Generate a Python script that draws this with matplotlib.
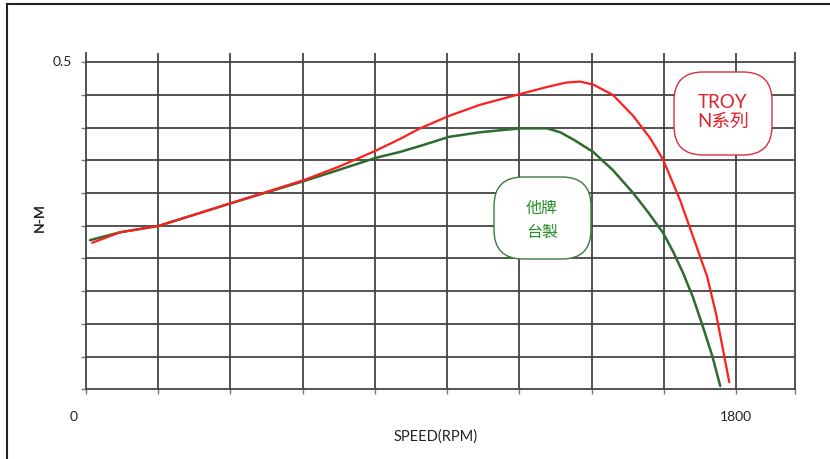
import matplotlib
matplotlib.use("Agg")
import matplotlib.pyplot as plt
from matplotlib.patches import FancyBboxPatch
from matplotlib.lines import Line2D

plt.rcParams['font.family'] = ['Lato', 'Noto Sans CJK TC', 'DejaVu Sans']

# ---- data ----
troy_speed = [17, 94, 202, 404, 604, 703, 803, 870, 925, 1005, 1091, 1202, 1271, 1329,
              1368, 1404, 1459, 1515, 1562, 1598, 1645, 1681, 1720, 1745, 1767, 1781]
troy_torque = [0.224, 0.240, 0.250, 0.285, 0.320, 0.341, 0.365, 0.383, 0.399, 0.418,
               0.435, 0.4515, 0.4615, 0.469, 0.4705, 0.466, 0.450, 0.418, 0.384, 0.351,
               0.289, 0.233, 0.172, 0.114, 0.051, 0.011]
other_speed = [11, 94, 202, 404, 604, 703, 803, 870, 925, 1005, 1091, 1202, 1277, 1313,
               1349, 1404, 1459, 1515, 1556, 1598, 1626, 1653, 1681, 1709, 1734, 1756]
other_torque = [0.228, 0.240, 0.250, 0.285, 0.3185, 0.336, 0.354, 0.363, 0.372, 0.386,
                0.393, 0.399, 0.399, 0.393, 0.382, 0.363, 0.335, 0.300, 0.271, 0.239,
                0.210, 0.178, 0.140, 0.094, 0.051, 0.005]
x_ticks = [0, 200, 400, 600, 800, 1000, 1200, 1400, 1600, 1800]
y_ticks = [0.0, 0.05, 0.1, 0.15, 0.2, 0.25, 0.3, 0.35, 0.4, 0.45, 0.5]
x_tick_labels = {0: "0", 1800: "1800"}
y_tick_labels = {0.5: "0.5"}
troy_label = "TROY\nN系列"
other_label = "他牌\n台製"
x_title = "SPEED(RPM)"
y_title = "N-M"

W, H = 830, 459
fig = plt.figure(figsize=(W / 100, H / 100), dpi=100)
fig.patch.set_facecolor("white")

ax = fig.add_axes([86 / W, (H - 389.3) / H, (795 - 86) / W, (389.3 - 53) / H])
ax.set_xlim(0, 1963)
ax.set_ylim(0, 0.5142)

grid_c = "#444444"
ax.spines["top"].set_visible(False)
for s in ["left", "right", "bottom"]:
    ax.spines[s].set_color(grid_c)
    ax.spines[s].set_linewidth(1.3)

for xv in x_ticks[1:]:
    ax.axvline(xv, color=grid_c, lw=1.3, zorder=1)
for yv in y_ticks[1:]:
    ax.axhline(yv, color=grid_c, lw=1.3, zorder=1)

ax.set_xticks(x_ticks + [1963])
ax.set_xticklabels([])
ax.set_yticks(y_ticks)
ax.set_yticklabels([])
ax.tick_params(axis="both", direction="out", length=3.5, width=1.0, color="#777777")

for xv, lab in x_tick_labels.items():
    dx = -12 if xv == 0 else 0
    ax.annotate(lab, xy=(xv, 0), xycoords="data", xytext=(dx * 0.72, -20),
                textcoords="offset points", ha="center", va="center",
                fontsize=10, color="#222222")
for yv, lab in y_tick_labels.items():
    ax.annotate(lab, xy=(0, yv), xycoords="data", xytext=(-17, 0),
                textcoords="offset points", ha="center", va="center",
                fontsize=10, color="#222222")

fig.text(436 / W, 1 - 437 / H, x_title, ha="center", va="center",
         fontsize=10.5, color="#222222")
fig.text(40 / W, 1 - 218 / H, y_title, ha="center", va="center",
         rotation=90, fontsize=10, fontweight="bold", color="#222222")

ax.plot(other_speed, other_torque, color="#2e6b2e", lw=1.8, zorder=3,
        solid_capstyle="round", solid_joinstyle="round")
ax.plot(troy_speed, troy_torque, color="#ff1e1e", lw=1.6, zorder=4,
        solid_capstyle="round", solid_joinstyle="round")

# label boxes (pixel positions in figure)
def box(x0, y0, x1, y1, ec):
    p = FancyBboxPatch((x0 / W, 1 - y1 / H), (x1 - x0) / W, (y1 - y0) / H,
                       boxstyle="round,pad=0,rounding_size=0.035",
                       transform=fig.transFigure, facecolor="white",
                       edgecolor=ec, lw=1.0, zorder=5,
                       mutation_aspect=W / H)
    fig.add_artist(p)

box(674, 72, 772, 155, "#d8303a")
fig.text(723 / W, 1 - 112 / H, troy_label, ha="center", va="center",
         fontsize=13.5, color="#e0202a", linespacing=1.15, zorder=6)

box(494, 177, 591, 259, "#3c7a3c")
fig.text(542 / W, 1 - 220 / H, other_label, ha="center", va="center",
         fontsize=11.5, color="#2a8f2a", linespacing=1.55, zorder=6,
         family=['Noto Sans CJK TC', 'DejaVu Sans'])

# outer frame
fig.add_artist(Line2D([6.5 / W, 6.5 / W], [0, 1 - 3.5 / H], transform=fig.transFigure,
                      color="#222222", lw=1.5))
fig.add_artist(Line2D([6.5 / W, 1], [1 - 3.5 / H, 1 - 3.5 / H], transform=fig.transFigure,
                      color="#222222", lw=1.5))

fig.savefig("out.png", dpi=100, facecolor="white")
